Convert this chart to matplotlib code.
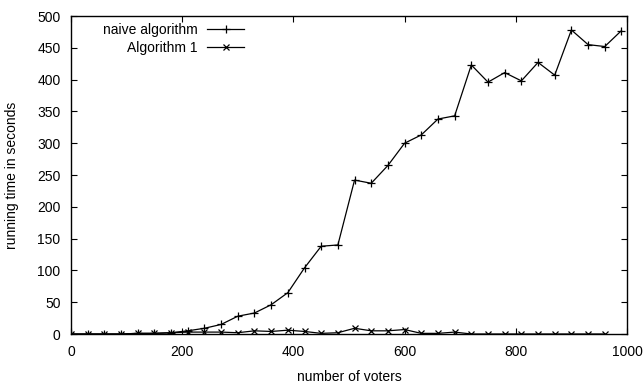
import matplotlib
matplotlib.use('Agg')
import matplotlib.pyplot as plt

plt.rcParams['font.family'] = ['Liberation Sans', 'DejaVu Sans']
plt.rcParams['font.size'] = 10

# number of voters
voters_naive = list(range(0, 1000, 30))
voters_alg1 = list(range(0, 990, 30))

# running time (s)
time_naive = [0, 0, 0, 0, 1, 1, 2, 5, 9, 15, 28, 33, 46, 65, 104, 138, 140,
              242, 237, 265, 300, 313, 338, 343, 423, 396, 411, 398, 427, 407,
              478, 455, 452, 477]
time_alg1 = [0, 0, 0, 0, 1, 1, 2, 3, 3, 3, 2, 5, 4, 6, 4, 1, 2,
             9, 5, 5, 7, 1, 1, 3, 0, 0, 0, 0, 0, 0, 0, 0, 0]

fig = plt.figure(figsize=(6.44, 3.87), dpi=100)
ax = fig.add_axes([71/644, 1 - 334/387, 556/644, 318/387])

ax.plot(voters_naive, time_naive, color='black', lw=0.9, marker='+', ms=6, mew=0.9,
        label='naive algorithm')
ax.plot(voters_alg1, time_alg1, color='black', lw=0.9, marker='x', ms=4.5, mew=0.9,
        label='Algorithm 1')

ax.set_xlim(0, 1000)
ax.set_ylim(0, 500)
ax.set_xticks(range(0, 1001, 200))
ax.set_yticks(range(0, 501, 50))
ax.tick_params(direction='in', top=True, right=True, length=4.5, width=0.8)
ax.tick_params(axis='y', pad=7.5)
ax.tick_params(axis='x', pad=8)
for s in ax.spines.values():
    s.set_linewidth(1.0)

ax.set_xlabel('number of voters', labelpad=8)
ax.set_ylabel('running time in seconds', labelpad=13)

ax.legend(loc='upper left', markerfirst=False, frameon=False, handlelength=2.65,
          handletextpad=0.7, borderaxespad=0.0, labelspacing=0.3,
          bbox_to_anchor=(0.047, 0.995))

fig.savefig('out.png', dpi=100)
